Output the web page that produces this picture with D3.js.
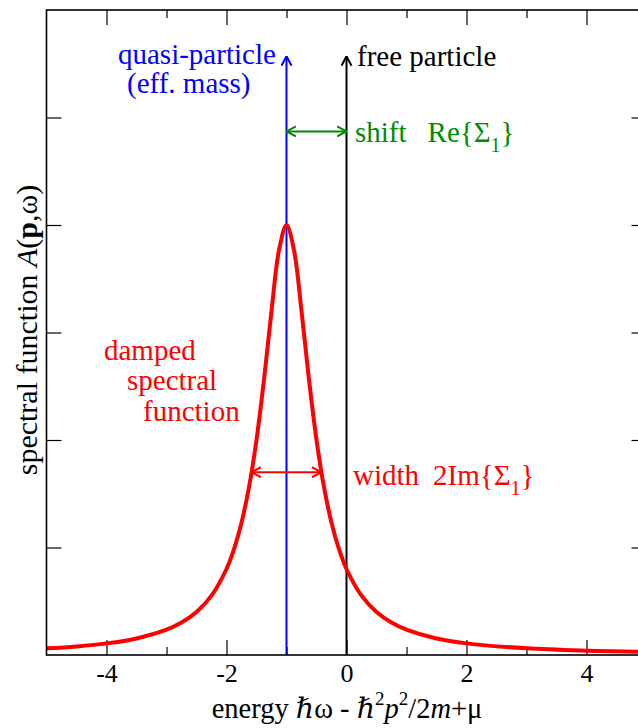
<!DOCTYPE html>
<html>
<head>
<meta charset="utf-8">
<script src="https://cdn.jsdelivr.net/npm/d3@7"></script>
<style>
  body { margin: 0; background: #fff; }
</style>
</head>
<body>
<div id="chart"></div>
<script>
// values
const energy   = [-5, -4.5, -4, -3.5, -3, -2.75, -2.5, -2.25, -2, -1.875, -1.75, -1.625, -1.5, -1.375, -1.25, -1.125, -1,
                  -0.875, -0.75, -0.625, -0.5, -0.375, -0.25, -0.125, 0, 0.25, 0.5, 0.75, 1, 1.5, 2, 3, 4, 5];
const spectral = [0.062, 0.08, 0.108, 0.154, 0.235, 0.302, 0.4, 0.552, 0.8, 0.985, 1.231, 1.561, 2.0, 2.56, 3.2, 3.765, 4.0,
                  3.765, 3.2, 2.56, 2.0, 1.561, 1.231, 0.985, 0.8, 0.552, 0.4, 0.302, 0.235, 0.154, 0.108, 0.062, 0.04, 0.028];
const majorTicks = [-4, -2, 0, 2, 4];
const minorTicks = [-3, -1, 1, 3];
const yTicks = [1, 2, 3, 4, 5];
const quasiPos = -1, freePos = 0;
const arrowTop = 5.57;
const shiftLevel = 4.87;
const widthLevel = 1.70, widthLeft = -1.583, widthRight = -0.417;

const W = 638, H = 728;
const FONT = "'Liberation Serif', 'Times New Roman', Times, 'DejaVu Serif', serif";
const x = d3.scaleLinear().domain([-5, 5]).range([46.5, 646.5]);
const y = d3.scaleLinear().domain([0, 6]).range([655, 10]);

const svg = d3.select("#chart").append("svg")
  .attr("width", W).attr("height", H)
  .attr("font-family", FONT);

const defs = svg.append("defs");
function head(id, color) {
  defs.append("marker")
    .attr("id", id)
    .attr("viewBox", "0 -6 10 12")
    .attr("refX", 9.5).attr("refY", 0)
    .attr("markerUnits", "userSpaceOnUse")
    .attr("markerWidth", 10).attr("markerHeight", 12)
    .attr("orient", "auto-start-reverse")
    .append("path")
    .attr("d", "M0,-5L9.5,0L0,5")
    .attr("fill", "none")
    .attr("stroke", color)
    .attr("stroke-width", 2);
}
head("hBlue", "#0000ff");
head("hBlack", "#000");
head("hGreen", "#008c00");
head("hRed", "#ff0000");

svg.append("clipPath").attr("id", "plot")
  .append("rect").attr("x", 46.5).attr("y", 10).attr("width", 600).attr("height", 645);

// axes, ticks inward
svg.append("g")
  .attr("transform", `translate(0,${y(0)})`)
  .call(d3.axisBottom(x).tickValues(majorTicks).tickSize(-15).tickSizeOuter(0).tickPadding(9)
    .tickFormat(d => d < 0 ? "-" + Math.abs(d) : d))
  .call(g => g.select(".domain").remove())
  .call(g => g.attr("font-family", FONT))
  .call(g => g.selectAll("text").attr("font-size", "26px").attr("fill", "#000"));
svg.append("g")
  .attr("transform", `translate(0,${y(0)})`)
  .call(d3.axisBottom(x).tickValues(minorTicks).tickSize(-8).tickFormat(""))
  .call(g => g.select(".domain").remove());
svg.append("g")
  .attr("transform", `translate(0,${y(6)})`)
  .call(d3.axisTop(x).tickValues(majorTicks).tickSize(-15).tickFormat(""))
  .call(g => g.select(".domain").remove());
svg.append("g")
  .attr("transform", `translate(0,${y(6)})`)
  .call(d3.axisTop(x).tickValues(minorTicks).tickSize(-8).tickFormat(""))
  .call(g => g.select(".domain").remove());
svg.append("g")
  .attr("transform", `translate(${x(-5)},0)`)
  .call(d3.axisLeft(y).tickValues(yTicks).tickSize(-15).tickFormat(""))
  .call(g => g.select(".domain").remove());
svg.append("g")
  .attr("transform", `translate(${x(5)},0)`)
  .call(d3.axisRight(y).tickValues(yTicks).tickSize(-15).tickFormat(""))
  .call(g => g.select(".domain").remove());
svg.selectAll(".tick line").attr("stroke", "#000").attr("stroke-width", 1.2);

// vertical lines
svg.append("line")
  .attr("x1", x(quasiPos)).attr("x2", x(quasiPos))
  .attr("y1", y(0)).attr("y2", y(arrowTop))
  .attr("stroke", "#0000ff").attr("stroke-width", 2)
  .attr("marker-end", "url(#hBlue)");
svg.append("line")
  .attr("x1", x(freePos)).attr("x2", x(freePos))
  .attr("y1", y(0)).attr("y2", y(arrowTop))
  .attr("stroke", "#000").attr("stroke-width", 2)
  .attr("marker-end", "url(#hBlack)");

// spectral curve
const pts = energy.map((e, i) => [e, spectral[i]]);
svg.append("path")
  .datum(pts)
  .attr("clip-path", "url(#plot)")
  .attr("fill", "none")
  .attr("stroke", "#ff0000")
  .attr("stroke-width", 4)
  .attr("d", d3.line().x(d => x(d[0])).y(d => y(d[1])).curve(d3.curveCatmullRom.alpha(0.5)));

// frame
svg.append("rect")
  .attr("x", x(-5)).attr("y", y(6))
  .attr("width", x(5) - x(-5)).attr("height", y(0) - y(6))
  .attr("fill", "none").attr("stroke", "#000").attr("stroke-width", 1.6);

// shift arrow
svg.append("line")
  .attr("x1", x(quasiPos)).attr("x2", x(freePos))
  .attr("y1", y(shiftLevel)).attr("y2", y(shiftLevel))
  .attr("stroke", "#008c00").attr("stroke-width", 2)
  .attr("marker-start", "url(#hGreen)").attr("marker-end", "url(#hGreen)");

// width arrow
svg.append("line")
  .attr("x1", x(widthLeft)).attr("x2", x(widthRight))
  .attr("y1", y(widthLevel)).attr("y2", y(widthLevel))
  .attr("stroke", "#ff0000").attr("stroke-width", 2)
  .attr("marker-start", "url(#hRed)").attr("marker-end", "url(#hRed)");

// annotations
const fs = "29px";
function label(tx, ty, color, str) {
  return svg.append("text").attr("x", tx).attr("y", ty)
    .attr("font-family", FONT).attr("font-size", fs).attr("fill", color).text(str);
}
label(118, 64, "#0000ff", "quasi-particle");
label(127, 93, "#0000ff", "(eff. mass)");
label(357, 66, "#000", "free particle");

const sh = label(355, 142, "#008c00", "shift");
sh.append("tspan").attr("dx", 21).text("Re{Σ");
sh.append("tspan").attr("font-size", "20px").attr("dy", 10).text("1");
sh.append("tspan").attr("dy", -10).text("}");

const wd = label(353, 485, "#ff0000", "width");
wd.append("tspan").attr("dx", 14).text("2Im{Σ");
wd.append("tspan").attr("font-size", "20px").attr("dy", 10).text("1");
wd.append("tspan").attr("dy", -10).text("}");

label(104, 360, "#ff0000", "damped");
label(127, 390, "#ff0000", "spectral");
label(143, 421, "#ff0000", "function");

// axis titles
const yl = svg.append("text")
  .attr("transform", "translate(37,330) rotate(-90)")
  .attr("font-family", FONT)
  .attr("text-anchor", "middle").attr("font-size", "30px").attr("fill", "#000");
yl.append("tspan").text("spectral function ");
yl.append("tspan").attr("font-style", "italic").text("A");
yl.append("tspan").text("(");
yl.append("tspan").attr("font-weight", "bold").text("p");
yl.append("tspan").text(",ω)");

const xl = svg.append("text")
  .attr("x", 347).attr("y", 718)
  .attr("font-family", FONT)
  .attr("text-anchor", "middle").attr("font-size", "28.5px").attr("fill", "#000");
xl.append("tspan").text("energy ");
xl.append("tspan").attr("font-style", "italic").text("ℏ");
xl.append("tspan").text("ω - ");
xl.append("tspan").attr("font-style", "italic").text("ℏ");
xl.append("tspan").attr("font-size", "19px").attr("dy", -13).text("2");
xl.append("tspan").attr("font-style", "italic").attr("dy", 13).text("p");
xl.append("tspan").attr("font-size", "19px").attr("dy", -13).text("2");
xl.append("tspan").attr("dy", 13).text("/2");
xl.append("tspan").attr("font-style", "italic").text("m");
xl.append("tspan").text("+μ");
</script>
</body>
</html>
